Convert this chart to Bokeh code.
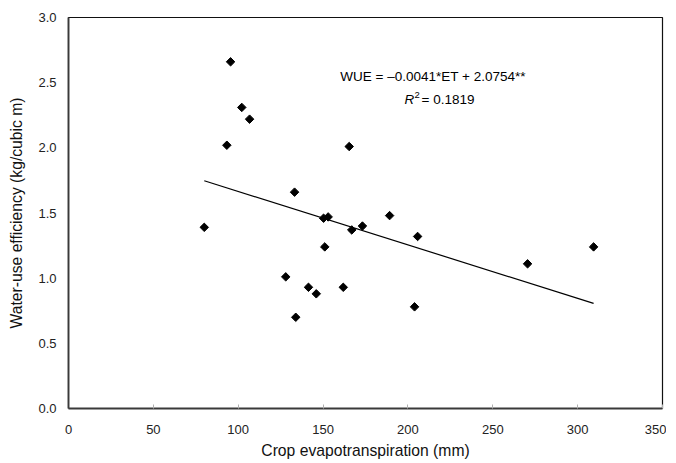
from bokeh.plotting import figure
from bokeh.models import FixedTicker, NumeralTickFormatter, Label, ColumnDataSource
from bokeh.embed import file_html
from bokeh.resources import INLINE

# Crop evapotranspiration (mm) and water-use efficiency (kg/cubic m)
et = [80.0, 95.5, 93.3, 102.1, 106.7, 133.2, 150.3, 153.0, 128.0, 141.4, 146.0,
      133.9, 151.0, 165.4, 189.2, 173.2, 166.9, 205.7, 161.9, 203.9, 270.5, 309.4]
wue = [1.39, 2.66, 2.02, 2.31, 2.22, 1.66, 1.46, 1.47, 1.01, 0.93, 0.88,
       0.70, 1.24, 2.01, 1.48, 1.40, 1.37, 1.32, 0.93, 0.78, 1.11, 1.24]

slope = -0.0041
intercept = 2.0754

x_ticks = [0, 50, 100, 150, 200, 250, 300, 350]
y_ticks = [0.0, 0.5, 1.0, 1.5, 2.0, 2.5, 3.0]

FONT = "Liberation Sans"

p = figure(width=666, height=461, x_range=(0, 350), y_range=(0, 3.0),
           output_backend="svg", toolbar_location=None,
           min_border_left=68, min_border_right=4, min_border_top=17, min_border_bottom=52)

p.xgrid.visible = False
p.ygrid.visible = False
p.outline_line_color = "#111111"
p.outline_line_width = 1.2
p.background_fill_color = "white"
p.border_fill_color = "white"

p.xaxis.ticker = FixedTicker(ticks=x_ticks)
p.yaxis.ticker = FixedTicker(ticks=y_ticks)
p.yaxis.formatter = NumeralTickFormatter(format="0.0")

for ax in (p.xaxis, p.yaxis):
    ax.axis_line_color = "#3a3a3a"
    ax.axis_line_width = 1.8
    ax.major_label_text_font = FONT
    ax.major_label_text_font_size = "13px"
    ax.major_label_text_color = "#222222"
    ax.axis_label_text_font = FONT
    ax.axis_label_text_font_size = "15.7px"
    ax.axis_label_text_font_style = "normal"
    ax.axis_label_text_color = "#111111"
    ax.minor_tick_line_color = None

p.xaxis.major_tick_in = 4
p.xaxis.major_tick_out = 0
p.xaxis.major_tick_line_color = "#b0b0b0"
p.xaxis.major_label_standoff = 16
p.xaxis.axis_label_standoff = 5
p.xaxis.axis_label = "Crop evapotranspiration (mm)"

p.yaxis.major_tick_in = 0
p.yaxis.major_tick_out = 0
p.yaxis.major_label_standoff = 12
p.yaxis.axis_label_standoff = 10
p.yaxis.axis_label = "Water-use efficiency (kg/cubic m)"

# regression line
x0, x1 = min(et), max(et)
p.line([x0, x1], [slope * x0 + intercept, slope * x1 + intercept],
       line_color="black", line_width=1.2)

src = ColumnDataSource(dict(x=et, y=wue))
p.scatter("x", "y", source=src, marker="square", size=6, angle=0.785398,
          fill_color="black", line_color="black", line_width=1)

eq = Label(x=214.8, y=2.548, text="WUE = \u20130.0041*ET + 2.0754**",
           text_font=FONT, text_font_size="13.5px", text_align="center",
           text_baseline="middle", text_color="black")
p.add_layout(eq)

r_lab = Label(x=198.0, y=2.369, text="R", text_font=FONT, text_font_size="13.5px",
              text_font_style="italic", text_align="left", text_baseline="middle",
              text_color="black")
sup = Label(x=198.0, y=2.369, x_offset=10, y_offset=5, text="2", text_font=FONT,
            text_font_size="9.5px", text_align="left", text_baseline="middle",
            text_color="black")
r_val = Label(x=198.0, y=2.369, x_offset=17, text="= 0.1819", text_font=FONT,
              text_font_size="13.5px", text_align="left", text_baseline="middle",
              text_color="black")
p.add_layout(r_lab)
p.add_layout(sup)
p.add_layout(r_val)

open("out.html", "w").write(file_html(p, INLINE))
